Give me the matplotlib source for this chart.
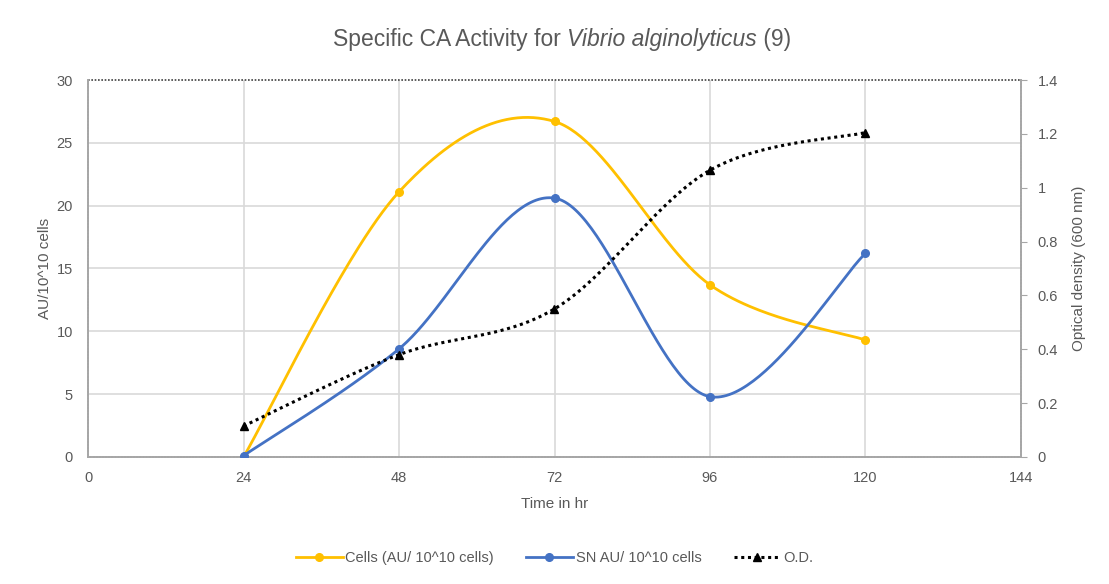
import matplotlib
matplotlib.use("Agg")
import matplotlib.pyplot as plt
from matplotlib.lines import Line2D
import numpy as np

plt.rcParams["font.family"] = ["Liberation Sans", "DejaVu Sans"]

# Sampling times (hr) and measured values
time_hr = [24, 48, 72, 96, 120]
cells_activity = [0.0, 21.1, 26.7, 13.7, 9.3]      # AU / 10^10 cells
sn_activity = [0.1, 8.6, 20.6, 4.8, 16.2]          # AU / 10^10 cells
optical_density = [0.115, 0.38, 0.55, 1.065, 1.205]

x_ticks = [0, 24, 48, 72, 96, 120, 144]
left_ticks = [0, 5, 10, 15, 20, 25, 30]
right_ticks = [0, 0.2, 0.4, 0.6, 0.8, 1.0, 1.2, 1.4]
right_tick_labels = ["0", "0.2", "0.4", "0.6", "0.8", "1", "1.2", "1.4"]

YELLOW = "#FFC000"
BLUE = "#4472C4"
GRAY = "#595959"
GRID = "#D9D9D9"


def smooth_curve(x, y, n=60):
    """Cubic Bezier smoothing through every point (spreadsheet-style)."""
    pts = np.column_stack([x, y]).astype(float)
    out = []
    t = np.linspace(0, 1, n)[:, None]
    for i in range(len(pts) - 1):
        p0 = pts[i - 1] if i > 0 else pts[i]
        p1, p2 = pts[i], pts[i + 1]
        p3 = pts[i + 2] if i + 2 < len(pts) else pts[i + 1]
        c1 = p1 + (p2 - p0) / 6
        c2 = p2 - (p3 - p1) / 6
        seg = ((1 - t) ** 3) * p1 + 3 * ((1 - t) ** 2) * t * c1 \
            + 3 * (1 - t) * t ** 2 * c2 + t ** 3 * p2
        out.append(seg if i == 0 else seg[1:])
    s = np.vstack(out)
    return s[:, 0], s[:, 1]


fig = plt.figure(figsize=(11.09, 5.84), dpi=100)
ax = fig.add_axes([0.0794, 0.2175, 0.8412, 0.6455])
ax2 = ax.twinx()

# gridlines
for xv in x_ticks[1:-1]:
    ax.axvline(xv, color=GRID, lw=1.2, zorder=0)
for yv in left_ticks[1:-1]:
    ax.axhline(yv, color=GRID, lw=1.2, zorder=0)
ax.axhline(30, color="#404040", lw=1.2, ls=(0, (1, 1)), zorder=1, clip_on=False)

sx, sy = smooth_curve(time_hr, cells_activity)
ax.plot(sx, sy, color=YELLOW, lw=2.0, zorder=3)
ax.plot(time_hr, cells_activity, "o", color=YELLOW, ms=5.5, zorder=4)

sx, sy = smooth_curve(time_hr, sn_activity)
ax.plot(sx, sy, color=BLUE, lw=2.0, zorder=3)
ax.plot(time_hr, sn_activity, "o", color=BLUE, ms=5.5, zorder=4)

sx, sy = smooth_curve(time_hr, optical_density)
ax2.plot(sx, sy, color="black", lw=2.2, ls=(0, (1, 1.2)), zorder=3)
ax2.plot(time_hr, optical_density, "^", color="black", ms=6, zorder=4)

ax.set_xlim(0, 144)
ax.set_ylim(0, 30)
ax2.set_ylim(0, 1.4)
ax.set_xticks(x_ticks)
ax.set_yticks(left_ticks)
ax2.set_yticks(right_ticks)
ax2.set_yticklabels(right_tick_labels)

ax.tick_params(axis="x", length=0, colors=GRAY, labelsize=10.5, pad=10)
ax.tick_params(axis="y", length=0, colors=GRAY, labelsize=10.5, pad=11)
ax2.tick_params(axis="y", length=4, direction="out", color="#A6A6A6",
                labelcolor=GRAY, labelsize=10.5, pad=8)

for a in (ax, ax2):
    for side in ("top", "right", "left", "bottom"):
        a.spines[side].set_visible(False)
ax.spines["left"].set_visible(True)
ax.spines["bottom"].set_visible(True)
ax2.spines["right"].set_visible(True)
for sp in (ax.spines["left"], ax.spines["bottom"], ax2.spines["right"]):
    sp.set_color("#A6A6A6")
    sp.set_linestyle((0, (1, 0.6)))
    sp.set_linewidth(1.4)

ax.set_xlabel("Time in hr", color=GRAY, fontsize=11, labelpad=9)
ax.set_ylabel("AU/10^10 cells", color=GRAY, fontsize=11, labelpad=3)
ax2.set_ylabel("Optical density (600 nm)", color=GRAY, fontsize=11,
               labelpad=10)

# title with the species name in italics
pieces = [("Specific CA Activity for ", "normal"),
          ("Vibrio alginolyticus", "italic"),
          (" (9)", "normal")]
texts = [fig.text(0, 0.933, s, fontsize=16.5, style=st, color=GRAY,
                  va="center", ha="left") for s, st in pieces]
renderer = fig.canvas.get_renderer()
widths = [t.get_window_extent(renderer).width / fig.bbox.width for t in texts]
xpos = 0.507 - sum(widths) / 2
for t, w in zip(texts, widths):
    t.set_x(xpos)
    xpos += w

handles = [
    Line2D([], [], color=YELLOW, lw=2.0, marker="o", ms=5.5),
    Line2D([], [], color=BLUE, lw=2.0, marker="o", ms=5.5),
    Line2D([], [], color="black", lw=2.2, ls=(0, (1, 1.2)), marker="^", ms=6),
]
labels = ["Cells (AU/ 10^10 cells)", "SN AU/ 10^10 cells", "O.D."]
leg = fig.legend(handles, labels, loc="center", bbox_to_anchor=(0.5, 0.044),
                 ncol=3, frameon=False, fontsize=10.5, handlelength=3.2,
                 columnspacing=2.2, handletextpad=0.2)
for txt in leg.get_texts():
    txt.set_color(GRAY)

fig.savefig("out.png", dpi=100)
plt.close(fig)
